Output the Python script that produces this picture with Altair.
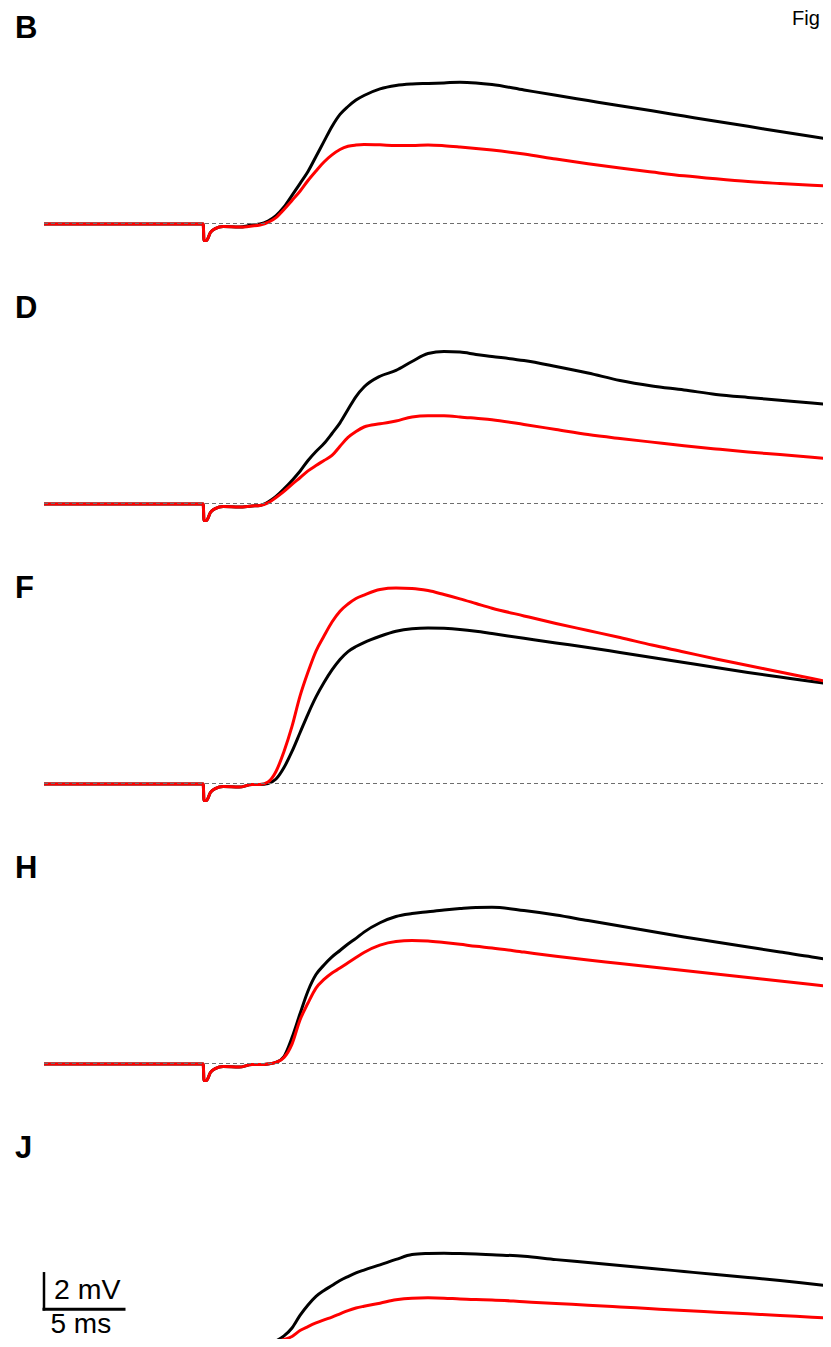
import altair as alt
import pandas as pd

# time axis (ms)
T = [0, 9.95, 10.0, 10.15, 10.4, 10.7, 11.2, 12.2, 13.0, 13.5, 14.0, 14.5, 15.0, 15.5,
     16.0, 16.5, 17.0, 17.5, 18.0, 18.5, 19.0, 19.5, 20.0, 21.0, 22.0, 23.0, 24.0, 25.0,
     26.0, 27.0, 28.0, 30.0, 32.0, 34.0, 36.0, 38.0, 40.0, 42.0, 44.0, 46.0, 48.0, 50.0]

# membrane potential (mV) relative to baseline
ART = [-0.03, -0.03, -0.95, -0.95, -0.5, -0.28, -0.17, -0.2]
ART_J = [-0.03, -0.03, -0.95, -0.95, -0.6, -0.4, -0.3, -0.3]

B_black = ART + [-0.08, -0.03, 0.14, 0.44, 0.92, 1.56, 2.22, 2.89, 3.72, 4.56, 5.39, 6.06, 6.5,
                 6.86, 7.11, 7.48, 7.67, 7.75, 7.78, 7.81, 7.85, 7.81, 7.72, 7.42, 7.12, 6.83,
                 6.54, 6.26, 5.97, 5.68, 5.4, 5.11, 4.83, 4.54]
B_red = ART + [-0.14, -0.08, 0.06, 0.33, 0.78, 1.28, 1.79, 2.39, 2.92, 3.42, 3.81, 4.11, 4.29,
               4.36, 4.39, 4.37, 4.33, 4.33, 4.36, 4.32, 4.25, 4.17, 4.08, 3.86, 3.58, 3.32,
               3.08, 2.86, 2.65, 2.48, 2.33, 2.22, 2.12, 2.04]

D_black = ART + [-0.14, -0.11, 0.08, 0.39, 0.81, 1.28, 1.79, 2.39, 2.89, 3.33, 3.89, 4.48, 5.22,
                 5.94, 6.47, 7.07, 7.39, 7.89, 8.33, 8.44, 8.41, 8.28, 8.17, 7.94, 7.61, 7.25,
                 6.83, 6.53, 6.31, 6.06, 5.89, 5.74, 5.58, 5.44]
D_red = ART + [-0.14, -0.11, 0.03, 0.33, 0.67, 1.06, 1.43, 1.81, 2.11, 2.39, 2.67, 3.18, 3.67,
               4.0, 4.25, 4.43, 4.58, 4.81, 4.88, 4.87, 4.81, 4.73, 4.65, 4.39, 4.11, 3.83,
               3.61, 3.41, 3.21, 3.03, 2.86, 2.72, 2.57, 2.42]

F_black = ART + [-0.06, -0.06, 0.0, 0.25, 0.89, 1.78, 2.82, 3.86, 4.81, 5.61, 6.31, 6.89, 7.33,
                 7.61, 7.83, 8.18, 8.46, 8.6, 8.64, 8.62, 8.56, 8.46, 8.33, 8.07, 7.81, 7.56,
                 7.28, 7.0, 6.72, 6.44, 6.17, 5.92, 5.67, 5.44]
F_red = ART + [-0.06, -0.06, 0.08, 0.67, 1.78, 3.17, 4.85, 6.19, 7.36, 8.19, 8.97, 9.57, 9.97,
               10.28, 10.47, 10.78, 10.86, 10.84, 10.72, 10.5, 10.26, 10.0, 9.74, 9.31, 8.89,
               8.5, 8.11, 7.69, 7.31, 6.92, 6.56, 6.19, 5.83, 5.47]

H_black = ART + [-0.06, -0.06, -0.03, 0.06, 0.39, 1.44, 2.76, 4.03, 4.94, 5.47, 5.92, 6.28, 6.64,
                 6.95, 7.3, 7.82, 8.17, 8.33, 8.43, 8.53, 8.61, 8.67, 8.68, 8.5, 8.25, 7.94,
                 7.64, 7.33, 7.03, 6.75, 6.47, 6.19, 5.92, 5.61]
H_red = ART + [-0.06, -0.06, -0.03, 0.06, 0.33, 1.08, 2.42, 3.36, 4.19, 4.67, 5.03, 5.3, 5.6,
               5.89, 6.17, 6.58, 6.78, 6.83, 6.81, 6.72, 6.62, 6.51, 6.42, 6.19, 5.96, 5.75,
               5.56, 5.36, 5.17, 4.97, 4.78, 4.58, 4.39, 4.19]

J_black = ART_J + [-0.28, -0.2, -0.06, 0.14, 0.42, 0.86, 1.56, 2.14, 2.62, 2.95, 3.22, 3.5, 3.72,
                   3.92, 4.08, 4.37, 4.67, 4.94, 5.0, 5.02, 5.0, 4.97, 4.93, 4.85, 4.66, 4.5,
                   4.33, 4.17, 4.0, 3.83, 3.67, 3.5, 3.3, 3.11]
J_red = ART_J + [-0.25, -0.14, -0.02, 0.11, 0.22, 0.39, 0.72, 0.94, 1.14, 1.31, 1.47, 1.65, 1.83,
                 1.97, 2.07, 2.24, 2.43, 2.52, 2.54, 2.52, 2.47, 2.44, 2.42, 2.32, 2.22, 2.13,
                 2.03, 1.93, 1.83, 1.74, 1.65, 1.56, 1.46, 1.37]

PANELS = ["B", "D", "F", "H", "J"]
BLACK = [B_black, D_black, F_black, H_black, J_black]
RED = [B_red, D_red, F_red, H_red, J_red]

SCALE_MS = [0, 5]      # 5 ms scale bar
SCALE_MV = [1.9, 3.9]  # 2 mV scale bar

FONT = "Liberation Sans"
W = 815
PX_MS = 16.0
PX_MV = 18.0
BASE = 215.5
XDOM = [-36 / PX_MS, (W - 36) / PX_MS]


def panel(label, black, red, height, extra=None):
    ydom = [-(height - BASE) / PX_MV, BASE / PX_MV]
    xs = alt.Scale(domain=XDOM, nice=False, zero=False)
    ys = alt.Scale(domain=ydom, nice=False, zero=False)
    df = pd.DataFrame({"t": T, "black": black, "red": red})
    base = alt.Chart(df)
    lb = base.mark_line(color="#000000", strokeWidth=3, interpolate="monotone", clip=True).encode(
        x=alt.X("t:Q", scale=xs, axis=None), y=alt.Y("black:Q", scale=ys, axis=None))
    lr = base.mark_line(color="#ff0000", strokeWidth=3, interpolate="monotone", clip=True).encode(
        x=alt.X("t:Q", scale=xs, axis=None), y=alt.Y("red:Q", scale=ys, axis=None))
    dash = alt.Chart(pd.DataFrame({"a": [0], "b": [50], "v": [0]})).mark_rule(
        color="#6e6e6e", strokeWidth=1, strokeDash=[4, 3], clip=True).encode(
        x=alt.X("a:Q", scale=xs, axis=None), x2="b:Q", y=alt.Y("v:Q", scale=ys, axis=None))
    lab = alt.Chart(pd.DataFrame({"s": [label]})).mark_text(
        font=FONT, fontSize=31, fontWeight="bold", align="left", baseline="alphabetic",
        color="#000000", clip=True).encode(text="s:N", x=alt.value(7), y=alt.value(29.7))
    layers = [lb, lr, dash, lab]
    if extra:
        layers += [e(xs, ys) for e in extra]
    return alt.layer(*layers).properties(width=W, height=height)


def fig_text(xs, ys):
    return alt.Chart(pd.DataFrame({"s": ["Fig"]})).mark_text(
        font=FONT, fontSize=20, align="left", baseline="alphabetic", color="#000000",
        clip=True).encode(text="s:N", x=alt.value(784), y=alt.value(17))


def scalebar(xs, ys):
    h = alt.Chart(pd.DataFrame({"a": [SCALE_MS[0]], "b": [SCALE_MS[1]], "v": [SCALE_MV[0]]})).mark_rule(
        color="#000000", strokeWidth=3, strokeCap="square", clip=True).encode(
        x=alt.X("a:Q", scale=xs, axis=None), x2="b:Q", y=alt.Y("v:Q", scale=ys, axis=None))
    v = alt.Chart(pd.DataFrame({"a": [SCALE_MS[0]], "v1": [SCALE_MV[0]], "v2": [SCALE_MV[1]]})).mark_rule(
        color="#000000", strokeWidth=2.5, strokeCap="square", clip=True).encode(
        x=alt.X("a:Q", scale=xs, axis=None), y=alt.Y("v1:Q", scale=ys, axis=None), y2="v2:Q")
    t1 = alt.Chart(pd.DataFrame({"s": ["2 mV"]})).mark_text(
        font=FONT, fontSize=28.5, align="left", baseline="alphabetic", color="#000000",
        clip=True).encode(text="s:N", x=alt.value(46), y=alt.value(171.3))
    t2 = alt.Chart(pd.DataFrame({"s": ["5 ms"]})).mark_text(
        font=FONT, fontSize=28, align="left", baseline="alphabetic", color="#000000",
        clip=True).encode(text="s:N", x=alt.value(42.5), y=alt.value(204.7))
    return alt.layer(h, v, t1, t2)


charts = []
heights = [280, 280, 280, 280, 211]
for i, (lab, bk, rd) in enumerate(zip(PANELS, BLACK, RED)):
    if i == 0:
        charts.append(panel(lab, bk, rd, heights[i], extra=[fig_text]))
    elif i == 4:
        charts.append(panel(lab, bk, rd, heights[i], extra=[scalebar]))
    else:
        charts.append(panel(lab, bk, rd, heights[i]))

chart = alt.vconcat(*charts, spacing=0, bounds="flush").resolve_scale(
    x="independent", y="independent").configure_view(stroke=None).properties(padding=0)

chart.save("out.html", embed_options={"renderer": "svg", "actions": False})
